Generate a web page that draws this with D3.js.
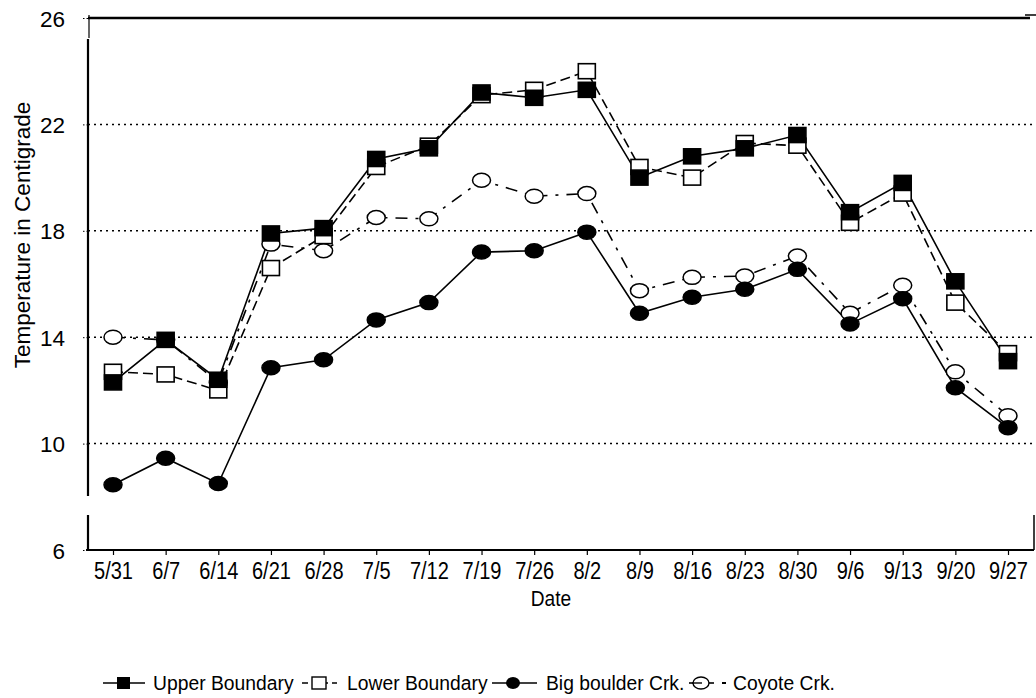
<!DOCTYPE html>
<html><head><meta charset="utf-8">
<script src="https://cdn.jsdelivr.net/npm/d3@7"></script>
<style>
body{margin:0;background:#fff;}
svg{display:block;font-family:"Liberation Sans",Arial,sans-serif;}
</style></head>
<body>
<svg id="chart" width="1036" height="698"></svg>
<script>
const categories = ["5/31","6/7","6/14","6/21","6/28","7/5","7/12","7/19","7/26","8/2","8/9","8/16","8/23","8/30","9/6","9/13","9/20","9/27"];
const upperBoundary = [12.3,13.9,12.4,17.9,18.1,20.7,21.1,23.2,23.0,23.3,20.0,20.8,21.1,21.6,18.7,19.8,16.1,13.1];
const lowerBoundary = [12.7,12.6,12.0,16.6,17.8,20.4,21.2,23.1,23.3,24.0,20.4,20.0,21.3,21.2,18.3,19.4,15.3,13.4];
const bigBoulder = [8.45,9.45,8.5,12.85,13.15,14.65,15.3,17.2,17.25,17.95,14.9,15.5,15.8,16.55,14.5,15.45,12.1,10.6];
const coyote = [14.0,13.9,12.3,17.5,17.25,18.5,18.45,19.9,19.3,19.4,15.75,16.25,16.3,17.05,14.9,15.95,12.7,11.05];
const yTicks = [6,10,14,18,22,26];
const gridValues = [10,14,18,22];
const seriesNames = ["Upper Boundary","Lower Boundary","Big boulder Crk.","Coyote Crk."];

const svg = d3.select("#chart");
const x = d3.scalePoint().domain(categories).range([113,1008]);
const y = d3.scaleLinear().domain([6,26]).range([550,18]);
const X0 = 88, X1 = 1034;

// grid
svg.append("g").selectAll("line").data(gridValues).join("line")
  .attr("x1",X0).attr("x2",X1).attr("y1",d=>y(d)).attr("y2",d=>y(d))
  .attr("stroke","#000").attr("stroke-width",1.5).attr("stroke-dasharray","2,4");

// top line
svg.append("line").attr("x1",X0).attr("x2",1030).attr("y1",y(26)).attr("y2",y(26))
  .attr("stroke","#000").attr("stroke-width",2.5);
svg.append("line").attr("x1",1025).attr("x2",1036).attr("y1",15).attr("y2",15)
  .attr("stroke","#000").attr("stroke-width",1.5);
// left axis segments (scan gaps)
svg.append("line").attr("x1",X0+1).attr("x2",X0+1).attr("y1",15).attr("y2",38)
   .attr("stroke","#000").attr("stroke-width",1.2);
[[39,496],[515,550]].forEach(s=>{
  svg.append("line").attr("x1",X0).attr("x2",X0).attr("y1",s[0]).attr("y2",s[1])
   .attr("stroke","#000").attr("stroke-width",2.2);
});
// right short segment
svg.append("line").attr("x1",X1).attr("x2",X1).attr("y1",515).attr("y2",550)
  .attr("stroke","#000").attr("stroke-width",1.5);

// y axis labels via axis
const yAxis = d3.axisLeft(y).tickValues(yTicks).tickSize(5).tickFormat(d3.format("d"));
const gy = svg.append("g").attr("transform",`translate(${X0},0)`).call(yAxis);
gy.select(".domain").remove();
gy.selectAll(".tick line").attr("stroke","#000").attr("stroke-dasharray","1.5,2");
gy.selectAll(".tick text").attr("font-size",22.5).attr("fill","#000")
  .attr("font-family","Liberation Sans, Arial, sans-serif")
  .attr("x",-23).attr("dy","0.36em");

// bottom axis
const xAxis = d3.axisBottom(x).tickSize(5);
const gx = svg.append("g").attr("transform","translate(0,550)").call(xAxis);
gx.select(".domain").remove();
svg.append("line").attr("x1",X0-2).attr("x2",X1).attr("y1",550).attr("y2",550)
  .attr("stroke","#000").attr("stroke-width",2.2);
gx.selectAll(".tick line").attr("stroke","#000").attr("stroke-width",1.2);
gx.selectAll(".tick text").attr("font-size",23).attr("fill","#000")
  .attr("font-family","Liberation Sans, Arial, sans-serif")
  .attr("y",29).attr("dy",0).attr("transform","scale(0.87,1)");

// axis titles
svg.append("text").attr("transform","translate(551,606) scale(0.87,1)").attr("text-anchor","middle")
  .attr("font-size",22).text("Date");
svg.append("text").attr("transform","translate(30,235) rotate(-90)")
  .attr("text-anchor","middle").attr("font-size",22.5).text("Temperature in Centigrade");

// lines
const line = d3.line().x((d,i)=>x(categories[i])).y(d=>y(d));
function drawLine(data,dash){
  svg.append("path").datum(data).attr("d",line).attr("fill","none")
   .attr("stroke","#000").attr("stroke-width",1.6).attr("stroke-dasharray",dash);
}
drawLine(coyote,"12,8,3,8");
drawLine(lowerBoundary,"10,5");
drawLine(bigBoulder,null);
drawLine(upperBoundary,null);

// markers
function squares(data,fill){
  svg.append("g").selectAll("rect").data(data).join("rect")
   .attr("x",(d,i)=>x(categories[i])-8.5).attr("y",d=>y(d)-7.5)
   .attr("width",17).attr("height",15)
   .attr("fill",fill).attr("stroke","#000").attr("stroke-width",1.6);
}
function circles(data,fill){
  svg.append("g").selectAll("ellipse").data(data).join("ellipse")
   .attr("cx",(d,i)=>x(categories[i])).attr("cy",d=>y(d))
   .attr("rx",9).attr("ry",7)
   .attr("fill",fill).attr("stroke","#000").attr("stroke-width",1.5);
}
circles(coyote,"#fff");
circles(bigBoulder,"#000");
squares(lowerBoundary,"#fff");
squares(upperBoundary,"#000");

// legend
const ly = 690, lc = 683;
const legend = svg.append("g");
function legLine(x1,x2,dash){
  legend.append("line").attr("x1",x1).attr("x2",x2).attr("y1",lc).attr("y2",lc)
   .attr("stroke","#000").attr("stroke-width",1.6).attr("stroke-dasharray",dash);
}
function legText(x0,t){
  legend.append("text").attr("transform",`translate(${x0},${ly}) scale(0.92,1)`)
   .attr("font-size",21).text(t);
}
legLine(103,145,null);
legend.append("rect").attr("x",117).attr("y",lc-6).attr("width",13).attr("height",12).attr("fill","#000");
legText(153,seriesNames[0]);
legLine(302,337,"6,4");
legend.append("rect").attr("x",312).attr("y",lc-6).attr("width",14).attr("height",12).attr("fill","#fff").attr("stroke","#000").attr("stroke-width",1.4);
legText(347,seriesNames[1]);
legLine(492,537,null);
legend.append("ellipse").attr("cx",513).attr("cy",lc).attr("rx",7).attr("ry",6).attr("fill","#000");
legText(546,seriesNames[2]);
legLine(689,714,null);
legend.append("line").attr("x1",722).attr("x2",726).attr("y1",lc).attr("y2",lc).attr("stroke","#000").attr("stroke-width",2);
legend.append("ellipse").attr("cx",701).attr("cy",lc).attr("rx",8).attr("ry",6).attr("fill","#fff").attr("stroke","#000").attr("stroke-width",1.4);
legend.append("line").attr("x1",692).attr("x2",702).attr("y1",lc).attr("y2",lc).attr("stroke","#000").attr("stroke-width",1.4);
legText(733,seriesNames[3]);
</script>
</body></html>
